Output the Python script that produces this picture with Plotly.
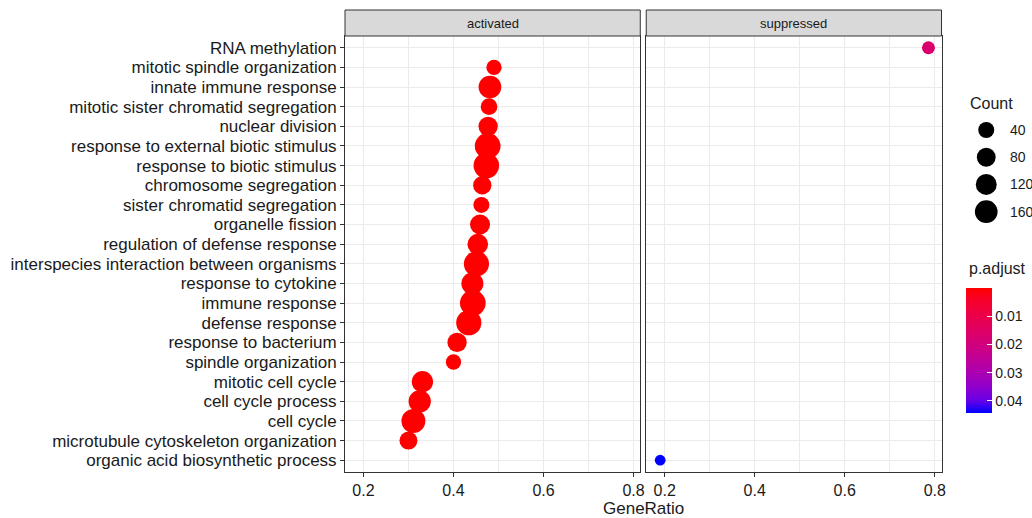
import plotly.graph_objects as go
import numpy as np

# ---------------- data ----------------
terms_top_to_bottom = [
    "RNA methylation",
    "mitotic spindle organization",
    "innate immune response",
    "mitotic sister chromatid segregation",
    "nuclear division",
    "response to external biotic stimulus",
    "response to biotic stimulus",
    "chromosome segregation",
    "sister chromatid segregation",
    "organelle fission",
    "regulation of defense response",
    "interspecies interaction between organisms",
    "response to cytokine",
    "immune response",
    "defense response",
    "response to bacterium",
    "spindle organization",
    "mitotic cell cycle",
    "cell cycle process",
    "cell cycle",
    "microtubule cytoskeleton organization",
    "organic acid biosynthetic process",
]

act_terms = terms_top_to_bottom[1:21]
act_ratio = [0.490, 0.481, 0.479, 0.477, 0.476, 0.473, 0.464, 0.462, 0.459, 0.454,
             0.451, 0.442, 0.443, 0.434, 0.408, 0.400, 0.331, 0.325, 0.311, 0.300]
act_count = [32, 160, 49, 89, 240, 235, 72, 40, 102, 115,
             225, 143, 240, 225, 89, 32, 128, 150, 190, 67]
act_padj = [1e-6] * 20

sup_terms = ["RNA methylation", "organic acid biosynthetic process"]
sup_ratio = [0.786, 0.190]
sup_count = [12, 2]
sup_padj = [0.017, 0.0443]

count_breaks = [40, 80, 120, 160]
padj_ticks = [0.01, 0.02, 0.03, 0.04]
x_ticks = [0.2, 0.4, 0.6, 0.8]
x_minor = [0.3, 0.5, 0.7]

# ---------------- helpers ----------------
def dot_size(c):
    return 9.3 + 1.06 * np.sqrt(np.asarray(c, dtype=float))

M = np.array([[0.4124, 0.3576, 0.1805], [0.2126, 0.7152, 0.0722], [0.0193, 0.1192, 0.9505]])
Minv = np.linalg.inv(M)
WP = np.array([0.95047, 1.0, 1.08883])

def to_lab(rgb):
    c = np.array(rgb) / 255.0
    lin = np.where(c <= 0.04045, c / 12.92, ((c + 0.055) / 1.055) ** 2.4)
    xyz = M @ lin / WP
    f = np.where(xyz > 0.008856, np.cbrt(xyz), 7.787 * xyz + 16 / 116)
    return np.array([116 * f[1] - 16, 500 * (f[0] - f[1]), 200 * (f[1] - f[2])])

def from_lab(lab):
    L, a, b = lab
    fy = (L + 16) / 116
    f = np.array([fy + a / 500, fy, fy - b / 200])
    xyz = np.where(f ** 3 > 0.008856, f ** 3, (f - 16 / 116) / 7.787) * WP
    lin = np.clip(Minv @ xyz, 0, 1)
    c = np.where(lin <= 0.0031308, 12.92 * lin, 1.055 * lin ** (1 / 2.4) - 0.055)
    c = np.clip(c * 255, 0, 255).round().astype(int)
    return "rgb(%d,%d,%d)" % tuple(c)

lab_blue, lab_red = to_lab((0, 0, 255)), to_lab((255, 0, 0))
colorscale = [[t, from_lab(lab_blue + (lab_red - lab_blue) * t)] for t in np.linspace(0, 1, 11)]

PMAX = max(act_padj + sup_padj)

# ---------------- layout geometry ----------------
W, H = 1032, 518
ML, MR, MT, MB = 345, 0, 36, 46
PW, PH = W - ML - MR, H - MT - MB

def px_x(p):
    return (p - ML) / PW

def px_y(p):
    return (H - MB - p) / PH

FONT = "Liberation Sans, Arial, sans-serif"
TXT = "#1a1a1a"
GRID = "#EBEBEB"
LINE = "#333333"

CB_LEFT, CB_W, CB_TOP, CB_LEN = 970, 26, 288, 125

fig = go.Figure()

fig.add_trace(go.Scatter(
    x=act_ratio, y=act_terms, mode="markers", xaxis="x", yaxis="y",
    marker=dict(size=dot_size(act_count), color=[-p for p in act_padj],
                coloraxis="coloraxis", line=dict(width=0), opacity=1),
    showlegend=False, hoverinfo="skip"))

fig.add_trace(go.Scatter(
    x=sup_ratio, y=sup_terms, mode="markers", xaxis="x2", yaxis="y2",
    marker=dict(size=dot_size(sup_count), color=[-p for p in sup_padj],
                coloraxis="coloraxis", line=dict(width=0), opacity=1),
    showlegend=False, hoverinfo="skip"))

# Count legend (size guide)
fig.add_trace(go.Scatter(
    x=[0.5] * len(count_breaks), y=count_breaks, mode="markers", xaxis="x3", yaxis="y3",
    marker=dict(size=dot_size(count_breaks), color="black", line=dict(width=0), opacity=1),
    showlegend=False, hoverinfo="skip"))

xr = [0.159, 0.815]
cat_order = terms_top_to_bottom[::-1]
xax_common = dict(
    range=xr, tickmode="array", tickvals=x_ticks, ticktext=[f"{v:.1f}" for v in x_ticks],
    ticks="outside", ticklen=4, tickwidth=1, tickcolor=LINE,
    showgrid=True, gridcolor=GRID, gridwidth=1.1,
    minor=dict(tickmode="array", tickvals=x_minor, showgrid=True, gridcolor=GRID, gridwidth=0.6, ticks=""),
    showline=True, mirror=True, linecolor=LINE, linewidth=1, zeroline=False,
    tickfont=dict(family=FONT, size=16, color=TXT), fixedrange=True,
)
yax_common = dict(
    type="category", categoryorder="array", categoryarray=cat_order,
    range=[-0.6, len(cat_order) - 0.4],
    showgrid=True, gridcolor=GRID, gridwidth=1.1,
    showline=True, mirror=True, linecolor=LINE, linewidth=1, zeroline=False,
    fixedrange=True,
)

x1_dom = [0, px_x(ML + 297)]
x2_dom = [px_x(ML + 303), px_x(ML + 600)]

fig.update_layout(
    width=W, height=H,
    margin=dict(l=ML, r=MR, t=MT, b=MB, pad=0),
    paper_bgcolor="white", plot_bgcolor="white",
    font=dict(family=FONT, color=TXT),
    xaxis=dict(domain=x1_dom, anchor="y", **xax_common),
    xaxis2=dict(domain=x2_dom, anchor="y2", **xax_common),
    yaxis=dict(domain=[0, 1], anchor="x", ticks="outside", ticklen=4, tickwidth=1, tickcolor=LINE,
               tickmode="array", tickvals=cat_order, ticktext=cat_order,
               tickfont=dict(family=FONT, size=17, color=TXT), **yax_common),
    yaxis2=dict(domain=[0, 1], anchor="x2", matches="y", showticklabels=False, ticks="",
                tickmode="array", tickvals=cat_order, **yax_common),
    xaxis3=dict(domain=[px_x(975), px_x(1005)], range=[0, 1], visible=False, fixedrange=True),
    yaxis3=dict(domain=[px_y(225.3), px_y(116.4)], range=[180, 20], visible=False, anchor="x3", fixedrange=True),
    coloraxis=dict(
        colorscale=colorscale, cmin=-PMAX, cmax=0,
        colorbar=dict(
            x=px_x(CB_LEFT), xanchor="left", y=px_y(CB_TOP + CB_LEN / 2), yanchor="middle",
            len=CB_LEN, lenmode="pixels", thickness=CB_W, thicknessmode="pixels",
            xpad=0, ypad=0, outlinewidth=0,
            tickmode="array", tickvals=[-v for v in padj_ticks], ticktext=[f"{v:.2f}" for v in padj_ticks],
            ticks="inside", ticklen=5, tickcolor="white", tickwidth=1,
            tickfont=dict(family=FONT, size=14, color=TXT),
        ),
    ),
    showlegend=False,
)

shapes = []
annotations = []
strip_top = 1 + 26 / PH
for dom, label in [(x1_dom, "activated"), (x2_dom, "suppressed")]:
    shapes.append(dict(type="rect", xref="paper", yref="paper", x0=dom[0], x1=dom[1], y0=1, y1=strip_top,
                       fillcolor="#D9D9D9", line=dict(color=LINE, width=1), layer="above"))
    annotations.append(dict(text=label, xref="paper", yref="paper", x=(dom[0] + dom[1]) / 2,
                            y=(1 + strip_top) / 2, showarrow=False, xanchor="center", yanchor="middle",
                            font=dict(family=FONT, size=13, color=TXT)))

# left-side white ticks on the colour bar (ggplot style)
for v in padj_ticks:
    ty = px_y(CB_TOP + CB_LEN * v / PMAX)
    shapes.append(dict(type="line", xref="paper", yref="paper", x0=px_x(CB_LEFT), x1=px_x(CB_LEFT + 5),
                       y0=ty, y1=ty, line=dict(color="white", width=1), layer="above"))

annotations.append(dict(text="GeneRatio", xref="paper", yref="paper", x=(x1_dom[0] + x2_dom[1]) / 2,
                        y=px_y(508), showarrow=False, xanchor="center", yanchor="middle",
                        font=dict(family=FONT, size=17, color=TXT)))
annotations.append(dict(text="Count", xref="paper", yref="paper", x=px_x(972), y=px_y(103),
                        showarrow=False, xanchor="left", yanchor="middle",
                        font=dict(family=FONT, size=16, color=TXT)))
annotations.append(dict(text="p.adjust", xref="paper", yref="paper", x=px_x(971), y=px_y(268),
                        showarrow=False, xanchor="left", yanchor="middle",
                        font=dict(family=FONT, size=16, color=TXT)))
for b in count_breaks:
    annotations.append(dict(text=str(b), xref="paper", yref="y3", x=px_x(1012), y=b,
                            showarrow=False, xanchor="left", yanchor="middle",
                            font=dict(family=FONT, size=14, color=TXT)))

fig.update_layout(shapes=shapes, annotations=annotations)
fig.write_html("out.html")
